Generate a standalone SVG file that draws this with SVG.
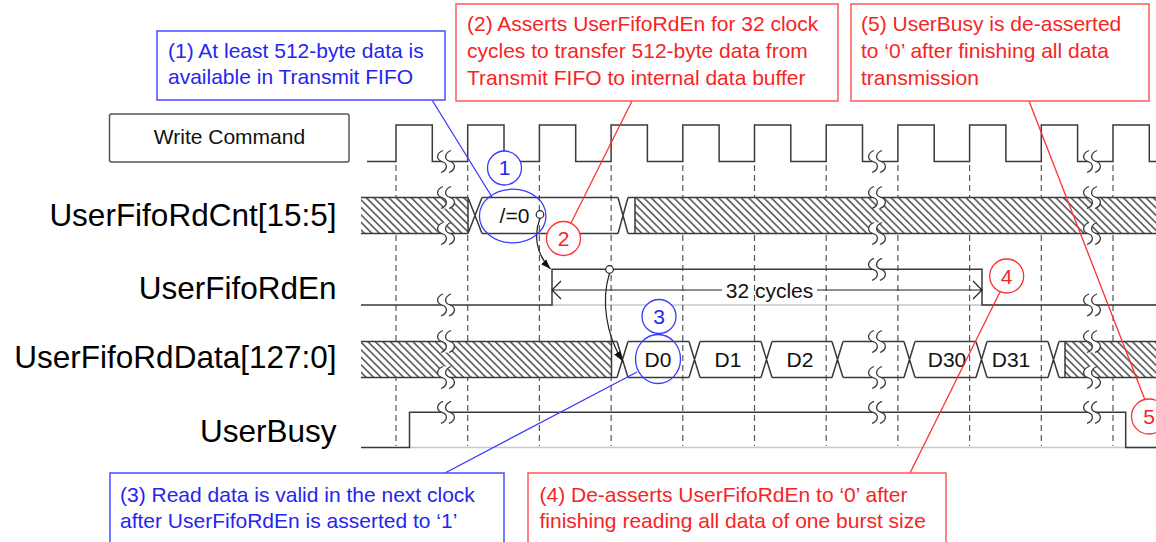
<svg xmlns="http://www.w3.org/2000/svg" xmlns:xlink="http://www.w3.org/1999/xlink" width="1156" height="542" viewBox="0 0 1156 542">
<style>
.sig{fill:none;stroke:#3a3a3a;stroke-width:1.5;stroke-linejoin:miter}
.base{fill:none;stroke:#c8c8c8;stroke-width:1.5}
.dash{fill:none;stroke:#555;stroke-width:1.2;stroke-dasharray:6 4}
.lbl{font-family:"Liberation Sans",Arial,sans-serif;font-size:31.5px;fill:#000;text-anchor:end}
.txt{font-family:"Liberation Sans",Arial,sans-serif;font-size:21px;fill:#111}
.ctr{text-anchor:middle}
.bt{font-family:"Liberation Sans",Arial,sans-serif;font-size:21px;fill:#2525f0}
.rt{font-family:"Liberation Sans",Arial,sans-serif;font-size:21px;fill:#f52525}
.bbox{fill:#fff;stroke:#4a4aff;stroke-width:1.5}
.rbox{fill:#fff;stroke:#ff5a5a;stroke-width:1.5}
.bl{fill:none;stroke:#3a3aff;stroke-width:1.3}
.rl{fill:none;stroke:#ff3030;stroke-width:1.3}
.bc{fill:#fff;stroke:#3a3aff;stroke-width:1.3}
.rc{fill:#fff;stroke:#ff3030;stroke-width:1.3}
.hat{fill:url(#hatch);stroke:none}
.arr{fill:none;stroke:#222;stroke-width:1.2}
</style>
<defs>
<pattern id="hatch" patternUnits="userSpaceOnUse" width="5.3" height="10" patternTransform="rotate(-45)">
<rect width="5.3" height="10" fill="#fff"/>
<line x1="2.65" y1="-1" x2="2.65" y2="11" stroke="#1e1e1e" stroke-width="1.2"/>
</pattern>
<g id="brk">
<path d="M-3,-11 C-10,-8 -10,-2 -4,0 C2,2 2,8 -5,11 L3,11 C10,8 10,2 4,0 C-2,-2 -2,-8 5,-11 Z" fill="#fff"/>
<path d="M-3,-11 C-10,-8 -10,-2 -4,0 C2,2 2,8 -5,11 M5,-11 C-2,-8 -2,-2 4,0 C10,2 10,8 3,11" fill="none" stroke="#3a3a3a" stroke-width="1.3"/>
</g>
<marker id="ah" viewBox="0 0 10 10" refX="10" refY="5" markerWidth="10" markerHeight="10" markerUnits="userSpaceOnUse" orient="auto">
<path d="M0,1.5 L10,5 L0,8.5 Z" fill="#111"/>
</marker>
</defs>
<rect width="1156" height="542" fill="#fff"/>

<g id="baselines">
<path class="base" d="M552,305 H1156 M410,447.5 H1156"/>
</g>

<g id="gridlines">
<path class="dash" d="M396,165 V446 M467.7,165 V446 M539.4,165 V446 M611.1,165 V446 M682.8,165 V446 M754.5,165 V446 M826.2,165 V446 M897.9,165 V446 M969.6,165 V446 M1041.3,165 V446 M1113,165 V446"/>
</g>

<g id="node-writecmd">
<rect x="109.5" y="114" width="239.5" height="48" rx="2" fill="#fff" stroke="#555" stroke-width="1.5"/>
<text class="txt ctr" x="229.5" y="143.5" font-size="20.5">Write Command</text>
</g>

<g id="node-clock">
<path class="sig" d="M367,161.5 H396 V125 H432.3 V161.5 H467.7 V125 H504 V161.5 H539.4 V125 H575.7 V161.5 H611.1 V125 H647.4 V161.5 H682.8 V125 H719.1 V161.5 H754.5 V125 H790.8 V161.5 H826.2 V125 H862.5 V161.5 H897.9 V125 H934.2 V161.5 H969.6 V125 H1005.9 V161.5 H1041.3 V125 H1077.6 V161.5 H1113 V125 H1149.3 V161.5 H1156"/>
<use href="#brk" x="446" y="161.5"/>
<use href="#brk" x="877" y="161.5"/>
<use href="#brk" x="1092" y="161.5"/>
</g>

<g id="node-rdcnt">
<text class="lbl" x="336.5" y="225.5">UserFifoRdCnt[15:5]</text>
<rect class="hat" x="361" y="197.5" width="107" height="36"/>
<rect class="hat" x="635" y="197.5" width="521" height="36"/>
<path class="sig" d="M361,197.5 H468 M361,233.5 H468 M468,197.5 V233.5 M468,197.5 L482,233.5 M468,233.5 L482,197.5 M482,197.5 H618 M482,233.5 H618 M618,197.5 L628,233.5 M618,233.5 L628,197.5 M628,197.5 H1156 M628,233.5 H1156 M635,197.5 V233.5"/>
<text class="txt" x="514.5" y="222.5" text-anchor="middle">/=0</text>
<use href="#brk" x="446" y="197.5"/>
<use href="#brk" x="446" y="233.5"/>
<use href="#brk" x="877" y="197.5"/>
<use href="#brk" x="877" y="233.5"/>
<use href="#brk" x="1092" y="197.5"/>
<use href="#brk" x="1092" y="233.5"/>
</g>

<g id="node-rden">
<text class="lbl" x="336.5" y="299">UserFifoRdEn</text>
<path class="sig" d="M361,305 H552 V269.3 H982 V305 H1156"/>
<use href="#brk" x="446" y="305"/>
<use href="#brk" x="877" y="269.3"/>
<use href="#brk" x="1092" y="305"/>
</g>

<g id="node-rddata">
<text class="lbl" x="336.5" y="367.5">UserFifoRdData[127:0]</text>
<rect class="hat" x="361" y="341.5" width="250.5" height="36"/>
<rect class="hat" x="1065" y="341.5" width="91" height="36"/>
<path class="sig" d="M361,341.5 H617 M361,377.5 H617 M611.5,341.5 V377.5
M617,341.5 L628,377.5 M617,377.5 L628,341.5 M628,341.5 H689 M628,377.5 H689
M689,341.5 L700,377.5 M689,377.5 L700,341.5 M700,341.5 H761 M700,377.5 H761
M761,341.5 L772,377.5 M761,377.5 L772,341.5 M772,341.5 H832 M772,377.5 H832
M832,341.5 L843,377.5 M832,377.5 L843,341.5 M843,341.5 H904 M843,377.5 H904
M904,341.5 L915,377.5 M904,377.5 L915,341.5 M915,341.5 H976 M915,377.5 H976
M976,341.5 L987,377.5 M976,377.5 L987,341.5 M987,341.5 H1048 M987,377.5 H1048
M1048,341.5 L1059,377.5 M1048,377.5 L1059,341.5 M1059,341.5 H1156 M1059,377.5 H1156 M1065,341.5 V377.5"/>
<text class="txt ctr" x="658" y="366.5">D0</text>
<text class="txt ctr" x="728" y="366.5">D1</text>
<text class="txt ctr" x="800" y="366.5">D2</text>
<text class="txt ctr" x="947" y="366.5">D30</text>
<text class="txt ctr" x="1011" y="366.5">D31</text>
<use href="#brk" x="446" y="341.5"/>
<use href="#brk" x="446" y="377.5"/>
<use href="#brk" x="877" y="341.5"/>
<use href="#brk" x="877" y="377.5"/>
<use href="#brk" x="1092" y="341.5"/>
<use href="#brk" x="1092" y="377.5"/>
</g>

<g id="node-busy">
<text class="lbl" x="336.5" y="442">UserBusy</text>
<path class="sig" d="M361,447.5 H409.5 V412.3 H1125.7 V447.5 H1156"/>
<use href="#brk" x="446" y="412.3"/>
<use href="#brk" x="877" y="412.3"/>
<use href="#brk" x="1092" y="412.3"/>
</g>

<g id="connectors">
<path class="arr" d="M552,290 H722 M817,290 H982 M561,281 L552,290 L561,299 M973,281 L982,290 L973,299"/>
<text class="txt ctr" x="769.5" y="297.5">32 cycles</text>
<circle cx="540" cy="214.5" r="3.8" fill="#fff" stroke="#222" stroke-width="1.2"/>
<path class="arr" d="M540,218.3 C533,236 537,255 550.5,269" marker-end="url(#ah)"/>
<circle cx="609.5" cy="269.5" r="3.8" fill="#fff" stroke="#222" stroke-width="1.2"/>
<path class="arr" d="M609.5,273.3 C601,300 606,335 622.5,361" marker-end="url(#ah)"/>
<path class="bl" d="M432,100 L492,197"/>
<path class="rl" d="M632,101 L571,223"/>
<path class="bl" d="M637,372 L445,473"/>
<path class="rl" d="M1000,292 L910,473"/>
<path class="rl" d="M1029,101 L1145,400"/>
</g>

<g id="marker-1">
<circle class="bc" cx="504.5" cy="168" r="17"/>
<text class="bt ctr" x="504.5" y="175">1</text>
<ellipse class="bl" cx="512.7" cy="216" rx="33.3" ry="26.8"/>
</g>
<g id="marker-2">
<circle class="rc" cx="563.5" cy="238.5" r="17"/>
<text class="rt ctr" x="563.5" y="246">2</text>
</g>
<g id="marker-3">
<circle class="bc" cx="659" cy="316.5" r="17"/>
<text class="bt ctr" x="659" y="324">3</text>
<ellipse class="bl" cx="658" cy="359" rx="22.5" ry="24.5"/>
</g>
<g id="marker-4">
<circle class="rc" cx="1006.7" cy="276" r="17"/>
<text class="rt ctr" x="1006.7" y="283.5">4</text>
</g>
<g id="marker-5">
<circle class="rc" cx="1149" cy="416.5" r="17.5"/>
<text class="rt ctr" x="1149" y="424">5</text>
</g>

<g id="note-1">
<rect class="bbox" x="157" y="31" width="288" height="69"/>
<text class="bt" x="168" y="57.5">(1) At least 512-byte data is</text>
<text class="bt" x="168" y="83.5">available in Transmit FIFO</text>
</g>
<g id="note-2">
<rect class="rbox" x="456" y="4" width="382" height="97"/>
<text class="rt" x="467" y="31">(2) Asserts UserFifoRdEn for 32 clock</text>
<text class="rt" x="467" y="58">cycles to transfer 512-byte data from</text>
<text class="rt" x="467" y="85">Transmit FIFO to internal data buffer</text>
</g>
<g id="note-5">
<rect class="rbox" x="851" y="4" width="298" height="97"/>
<text class="rt" x="861" y="31">(5) UserBusy is de-asserted</text>
<text class="rt" x="861" y="58">to ‘0’ after finishing all data</text>
<text class="rt" x="861" y="85">transmission</text>
</g>
<g id="note-3">
<rect class="bbox" x="110" y="473" width="394" height="80"/>
<text class="bt" x="120" y="502">(3) Read data is valid in the next clock</text>
<text class="bt" x="120" y="527.5">after UserFifoRdEn is asserted to ‘1’</text>
</g>
<g id="note-4">
<rect class="rbox" x="528" y="473" width="418" height="80"/>
<text class="rt" x="539.5" y="502">(4) De-asserts UserFifoRdEn to ‘0’ after</text>
<text class="rt" x="539.5" y="527.5">finishing reading all data of one burst size</text>
</g>
</svg>
